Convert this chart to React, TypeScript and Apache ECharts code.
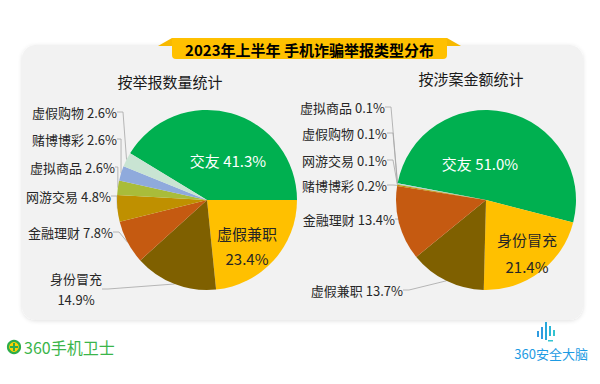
import React, { useEffect, useRef } from "react";
import * as echarts from "echarts";

// ---- data ----
const countCategories = ["交友", "虚假兼职", "身份冒充", "金融理财", "网游交易", "虚拟商品", "赌博博彩", "虚假购物"];
const countValues = [41.3, 23.4, 14.9, 7.8, 4.8, 2.6, 2.6, 2.6];
const amountCategories = ["交友", "身份冒充", "虚假兼职", "金融理财", "赌博博彩", "网游交易", "虚假购物", "虚拟商品"];
const amountValues = [51.0, 21.4, 13.7, 13.4, 0.2, 0.1, 0.1, 0.1];

const titleText = "2023年上半年 手机诈骗举报类型分布";
const countSubtitle = "按举报数量统计";
const amountSubtitle = "按涉案金额统计";

// ---- styles / layout ----
const palette = ["#00B050", "#FFC000", "#7F6000", "#C55A11", "#BF9000", "#A9BC3A", "#8FAADC", "#C9E4D3"];
const FONT = "'Noto Sans CJK SC', 'Noto Sans', sans-serif";

type Pos = { x: number; y: number; align: string };
const countLabelPos: Pos[] = [
  { x: 228, y: 160, align: "center" },
  { x: 247, y: 246, align: "center" },
  { x: 76, y: 289, align: "center" },
  { x: 113, y: 232, align: "right" },
  { x: 111, y: 196, align: "right" },
  { x: 115, y: 167, align: "right" },
  { x: 117, y: 139, align: "right" },
  { x: 117, y: 112, align: "right" },
];
const amountLabelPos: Pos[] = [
  { x: 480, y: 163, align: "center" },
  { x: 527, y: 253, align: "center" },
  { x: 403, y: 290, align: "right" },
  { x: 395, y: 219, align: "right" },
  { x: 387, y: 185, align: "right" },
  { x: 387, y: 160, align: "right" },
  { x: 387, y: 133, align: "right" },
  { x: 385, y: 107, align: "right" },
];

function buildData(cats: string[], vals: number[], multiLine: number[], insideIdx: number[], lineHeights: Record<number, number>) {
  return cats.map((name, i) => {
    const inside = insideIdx.includes(i);
    const item: any = {
      name,
      value: vals[i],
      itemStyle: { color: palette[i] },
      label: {
        formatter: multiLine.includes(i) ? "{b}\n" + vals[i].toFixed(1) + "%" : "{b} " + vals[i].toFixed(1) + "%",
        fontSize: inside ? 15 : 13,
        color: inside && i === 0 ? "#ffffff" : "#262626",
        lineHeight: lineHeights[i] || (inside ? 20 : 16),
      },
    };
    if (inside) item.labelLine = { show: false };
    return item;
  });
}

function makeLayout(pos: Pos[]) {
  return (params: any) => {
    const p = pos[params.dataIndex];
    return { x: p.x, y: p.y, align: p.align, verticalAlign: "middle", hideOverlap: false, moveOverlap: null };
  };
}

export default function App() {
  const ref = useRef<HTMLDivElement>(null);
  useEffect(() => {
    if (!ref.current) return;
    const chart = echarts.init(ref.current, undefined, { renderer: "svg" });

    const common = {
      type: "pie",
      radius: 90,
      clockwise: true,
      silent: true,
      avoidLabelOverlap: false,
      label: { show: true, position: "outside", fontFamily: FONT },
      labelLine: { show: true, length: 8, length2: 6, lineStyle: { color: "#A6A6A6", width: 0.8 } },
      emphasis: { disabled: true },
    };

    const option: any = {
      animation: false,
      backgroundColor: "#ffffff",
      textStyle: { fontFamily: FONT },
      graphic: [
        {
          type: "rect",
          shape: { x: 22, y: 45, width: 561, height: 275, r: 14 },
          style: { fill: "#F2F2F2", shadowBlur: 4, shadowColor: "rgba(0,0,0,0.12)", shadowOffsetY: 1 },
          z: -10,
        },
        {
          type: "polygon",
          shape: { points: [[158, 46], [172, 38], [447, 38], [461, 46]] },
          style: { fill: "#F7B900" },
        },
        {
          type: "rect",
          shape: { x: 172, y: 38, width: 275, height: 21, r: [0, 0, 4, 4] },
          style: { fill: "#FFC000" },
        },
        {
          type: "text",
          x: 309.5,
          y: 49,
          style: { text: titleText, fontSize: 15, fontWeight: "bold", fill: "#000", align: "center", verticalAlign: "middle", fontFamily: FONT },
        },
        {
          type: "text",
          x: 170,
          y: 81,
          style: { text: countSubtitle, fontSize: 15, fill: "#1a1a1a", align: "center", verticalAlign: "middle", fontFamily: FONT },
        },
        {
          type: "text",
          x: 471,
          y: 78,
          style: { text: amountSubtitle, fontSize: 15, fill: "#1a1a1a", align: "center", verticalAlign: "middle", fontFamily: FONT },
        },
        // left logo
        {
          type: "circle",
          shape: { cx: 14, cy: 347, r: 6 },
          style: { fill: "#FFD200", stroke: "#2EAD4B", lineWidth: 2.2 },
        },
        { type: "rect", shape: { x: 13, y: 343, width: 2, height: 8 }, style: { fill: "#2EAD4B" } },
        { type: "rect", shape: { x: 10, y: 346, width: 8, height: 2 }, style: { fill: "#2EAD4B" } },
        {
          type: "text",
          x: 24,
          y: 347,
          style: { text: "360手机卫士", fontSize: 16, fill: "#3BB54A", align: "left", verticalAlign: "middle", fontFamily: FONT },
        },
        // right logo
        { type: "rect", shape: { x: 537, y: 331, width: 2, height: 6 }, style: { fill: "#2F9BE0" } },
        { type: "rect", shape: { x: 541, y: 327, width: 2, height: 12 }, style: { fill: "#2F9BE0" } },
        { type: "rect", shape: { x: 545, y: 322, width: 2, height: 18 }, style: { fill: "#27A8DC" } },
        { type: "rect", shape: { x: 549, y: 326, width: 2, height: 10 }, style: { fill: "#2BB7D6" } },
        { type: "rect", shape: { x: 553, y: 330, width: 2, height: 6 }, style: { fill: "#33C4D0" } },
        { type: "rect", shape: { x: 548, y: 340, width: 5, height: 1.5 }, style: { fill: "#33C4D0" } },
        {
          type: "text",
          x: 588,
          y: 353,
          style: { text: "360安全大脑", fontSize: 13, fill: "#1D9BE3", align: "right", verticalAlign: "middle", fontFamily: FONT },
        },
      ],
      series: [
        {
          ...common,
          center: [207, 200],
          startAngle: 148.7,
          labelLayout: makeLayout(countLabelPos),
          data: buildData(countCategories, countValues, [1, 2], [0, 1], { 1: 25, 2: 21 }),
        },
        {
          ...common,
          center: [486, 200],
          startAngle: 169.2,
          labelLayout: makeLayout(amountLabelPos),
          data: buildData(amountCategories, amountValues, [1], [0, 1], { 1: 27 }),
        },
      ],
    };
    chart.setOption(option);
    return () => chart.dispose();
  }, []);
  return <div ref={ref} style={{ position: "absolute", left: 0, top: 0, width: 600, height: 384 }} />;
}
